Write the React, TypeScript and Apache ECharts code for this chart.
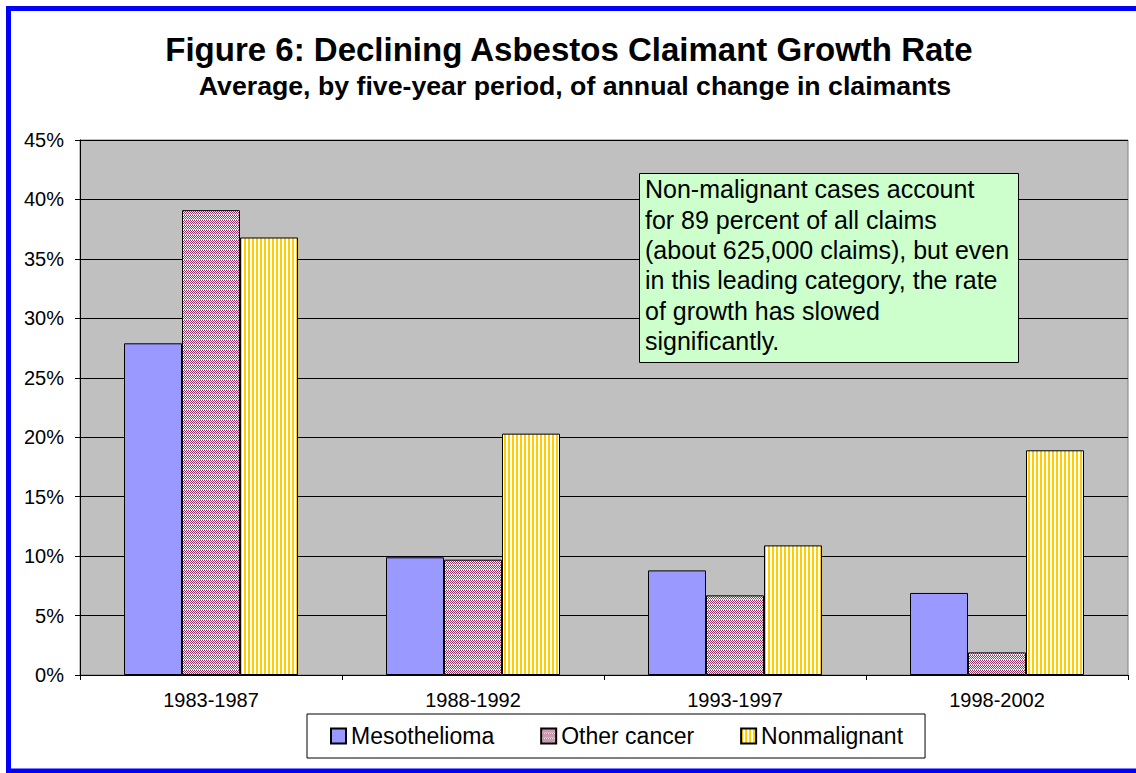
import React, { useEffect, useRef } from "react";
import * as echarts from "echarts";

const categories = ["1983-1987", "1988-1992", "1993-1997", "1998-2002"];
const seriesNames = ["Mesothelioma", "Other cancer", "Nonmalignant"];
const mesothelioma = [27.9, 9.9, 8.8, 6.9];
const otherCancer = [39.1, 9.7, 6.7, 1.9];
const nonmalignant = [36.8, 20.3, 10.9, 18.9];

const titleText = "Figure 6: Declining Asbestos Claimant Growth Rate";
const subtitleText = "Average, by five-year period, of annual change in claimants";
const noteLines = [
  "Non-malignant cases account",
  "for 89 percent of all claims",
  "(about 625,000 claims), but even",
  "in this leading category, the rate",
  "of growth has slowed",
  "significantly.",
];

const FONT = "Arial, 'Liberation Sans', Helvetica, sans-serif";

function makeCanvas(w: number, h: number, draw: (ctx: CanvasRenderingContext2D) => void) {
  const c = document.createElement("canvas");
  c.width = w;
  c.height = h;
  const ctx = c.getContext("2d") as CanvasRenderingContext2D;
  draw(ctx);
  return c;
}

export default function App() {
  const ref = useRef<HTMLDivElement>(null);

  useEffect(() => {
    if (!ref.current) return;
    const chart = echarts.init(ref.current, undefined, { renderer: "svg" });

    const stripe = makeCanvas(4, 4, (ctx) => {
      ctx.fillStyle = "#FFFFFF";
      ctx.fillRect(0, 0, 4, 4);
      ctx.fillStyle = "#FFCC00";
      ctx.fillRect(0, 0, 2, 4);
    });
    const checker = makeCanvas(2, 5, (ctx) => {
      const D = "#993366";
      const W = "#FFFFFF";
      const P = "#CC88AA";
      const rows = [
        [D, W],
        [W, D],
        [D, W],
        [W, D],
        [P, W],
      ];
      rows.forEach((r, y) =>
        r.forEach((col, x) => {
          ctx.fillStyle = col;
          ctx.fillRect(x, y, 1, 1);
        })
      );
    });

    const fills: any[] = [
      "#9999FF",
      { image: checker, repeat: "repeat", imageWidth: 2, imageHeight: 5 },
      { image: stripe, repeat: "repeat", imageWidth: 4, imageHeight: 4 },
    ];
    const datas = [mesothelioma, otherCancer, nonmalignant];

    chart.setOption({
      animation: false,
      backgroundColor: "#FFFFFF",
      textStyle: { fontFamily: FONT },
      grid: {
        left: 80,
        right: 8,
        top: 140,
        bottom: 98,
        show: true,
        backgroundColor: "#C0C0C0",
        borderColor: "#808080",
        borderWidth: 1,
      },
      legend: {
        left: 307,
        top: 714,
        orient: "horizontal",
        icon: "rect",
        itemWidth: 15,
        itemHeight: 15,
        itemGap: 46,
        padding: [10, 22, 10, 23],
        borderColor: "#000000",
        borderWidth: 1,
        backgroundColor: "#FFFFFF",
        textStyle: { fontSize: 23, color: "#000", fontFamily: FONT, lineHeight: 24 },
        data: seriesNames,
      },
      xAxis: {
        type: "category",
        data: categories,
        axisLine: { lineStyle: { color: "#000", width: 1 } },
        axisTick: { show: true, length: 5, lineStyle: { color: "#000" } },
        axisLabel: { fontSize: 20, color: "#000", margin: 15, fontFamily: FONT },
        splitLine: { show: false },
      },
      yAxis: {
        type: "value",
        min: 0,
        max: 45,
        interval: 5,
        axisLine: { show: true, lineStyle: { color: "#000", width: 1 } },
        axisTick: { show: true, length: 5, lineStyle: { color: "#000" } },
        axisLabel: { fontSize: 20, color: "#000", margin: 16, formatter: "{value}%", fontFamily: FONT },
        splitLine: { show: true, lineStyle: { color: "#000", width: 1 } },
      },
      series: seriesNames.map((name, i) => ({
        name,
        type: "bar",
        data: datas[i],
        barWidth: 58,
        barGap: "0%",
        itemStyle: { color: fills[i], borderColor: "#000", borderWidth: 1 },
      })),
      graphic: [
        {
          type: "text",
          x: 569,
          y: 49,
          style: {
            text: titleText,
            font: `bold 33px ${FONT}`,
            fill: "#000",
            align: "center",
            verticalAlign: "middle",
          },
        },
        {
          type: "text",
          x: 575,
          y: 86,
          style: {
            text: subtitleText,
            font: `bold 26.7px ${FONT}`,
            fill: "#000",
            align: "center",
            verticalAlign: "middle",
          },
        },
        {
          type: "rect",
          shape: { x: 639.5, y: 173.5, width: 379, height: 189 },
          style: { fill: "#CCFFCC", stroke: "#000", lineWidth: 1 },
          z: 100,
        },
        {
          type: "text",
          x: 645,
          y: 174,
          z: 101,
          style: {
            text: noteLines.join("\n"),
            font: `25px ${FONT}`,
            lineHeight: 30.4,
            fill: "#000",
            align: "left",
            verticalAlign: "top",
          },
        },
        {
          type: "rect",
          shape: { x: 8.5, y: 8.5, width: 1140, height: 762.5 },
          style: { fill: "none", stroke: "#0000FF", lineWidth: 5 },
          z: 200,
        },
      ],
    });

    return () => {
      chart.dispose();
    };
  }, []);

  return (
    <div
      ref={ref}
      style={{ position: "absolute", left: 0, top: 0, width: 1136, height: 773 }}
    />
  );
}
